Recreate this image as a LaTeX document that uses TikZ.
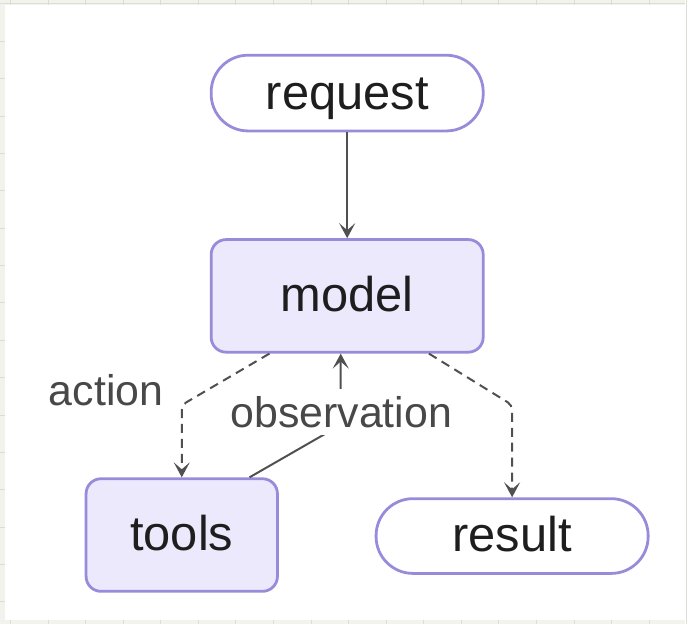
\documentclass[tikz,border=0pt]{standalone}
\usepackage{fontspec}
\setmainfont{Liberation Sans}
\usetikzlibrary{arrows.meta,calc}

\definecolor{gridbg}{HTML}{F3F3EE}
\definecolor{gridline}{HTML}{DDDDD4}
\definecolor{nodeborder}{HTML}{9A8BDA}
\definecolor{nodefill}{HTML}{ECE9FD}
\definecolor{edgecol}{HTML}{505050}
\definecolor{nodetext}{HTML}{1E1E1E}
\definecolor{labeltext}{HTML}{484848}

\tikzset{
  nodebase/.style={draw=nodeborder, line width=1.4pt, inner sep=0pt,
    text=nodetext, text height=17pt, text depth=1pt,
    font=\fontsize{24.5}{28}\selectfont},
  terminal/.style={nodebase, fill=white, rounded corners=18.5pt},
  process/.style={nodebase, fill=nodefill, rounded corners=7.5pt},
  flow/.style={draw=edgecol, line width=1pt,
    -{Stealth[length=7.5pt,width=8pt,inset=3.5pt]}},
  optflow/.style={flow, dash pattern=on 4.5pt off 3pt, rounded corners=2.5pt},
  edgelabel/.style={text=labeltext, inner sep=2pt,
    font=\fontsize{21.5}{24}\selectfont}
}

\begin{document}
\begin{tikzpicture}[x=0.5pt, y=-0.5pt]
  % page backdrop with a faint grid, and the white drawing sheet on top
  \fill[gridbg] (0,0) rectangle (687,626);
  \foreach \gx in {0,...,18} {
    \draw[gridline, line width=0.4pt] ({10+37.7*\gx},0) -- ({10+37.7*\gx},626);
  }
  \foreach \gy in {0,...,16} {
    \draw[gridline, line width=0.4pt] (0,{3.5+37.5*\gy}) -- (687,{3.5+37.5*\gy});
  }
  \fill[white] (5,5) rectangle (687,622);
  \useasboundingbox (0,0) rectangle (687,626);

  % nodes
  \node[terminal, minimum width=136.5pt, minimum height=38pt] (request) at (348,93) {request};
  \node[process, minimum width=136.5pt, minimum height=56.5pt] (model) at (348,296.5) {model};
  \node[process, minimum width=96pt, minimum height=56.5pt] (tools) at (182,536.5) {tools};
  \node[terminal, minimum width=136.5pt, minimum height=37.5pt] (result) at (513.5,537.5) {result};

  % bends of the conditional edges
  \coordinate (abend) at (182,406);
  \coordinate (rbend) at (513.5,406);
  \coordinate (obend) at (341.5,426);

  % edges
  \draw[flow] (request) -- (model);
  \draw[optflow] ([xshift=-39pt]model.south) -- (abend) -- (tools.north);
  \draw[optflow] ([xshift=41pt]model.south) -- (rbend) -- (result.north);
  \draw[flow] ([xshift=34pt]tools.north) -- (obend) -- ([xshift=-3.25pt]model.south);

  % edge labels
  \node[edgelabel, fill=white, inner sep=3.5pt] (obs) at (342,413) {observation};
  \node[edgelabel] (act) at (106,391) {action};
\end{tikzpicture}
\end{document}
